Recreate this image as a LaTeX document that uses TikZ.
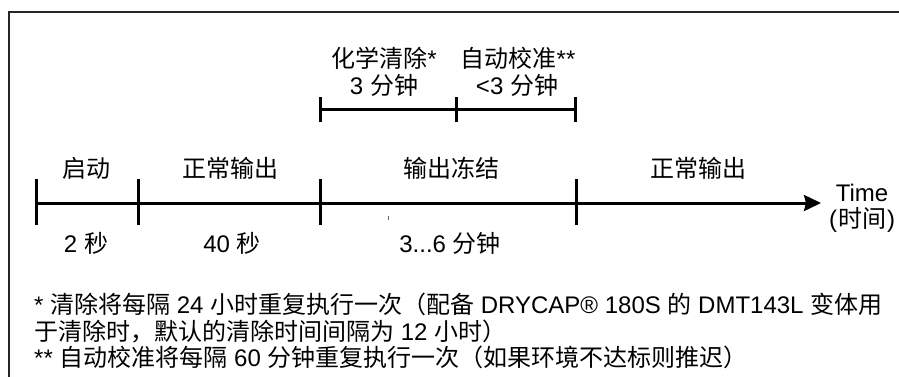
\documentclass[tikz,border=0pt]{standalone}
\usepackage{fontspec}
\setmainfont{Liberation Sans}
\newfontfamily\cjk{Noto Sans CJK SC}
\usetikzlibrary{arrows.meta}
\begin{document}
\begin{tikzpicture}[x=1pt,y=-1pt,
  lbl/.style={inner sep=0pt,anchor=base,font=\fontsize{24}{27}\selectfont},
  note/.style={inner sep=0pt,anchor=base west,font=\fontsize{24}{27}\selectfont},
  axis/.style={line width=3pt},
  tick/.style={line width=3pt},
  frame/.style={line width=1.8pt,black!85}]
\useasboundingbox (0,0) rectangle (899,376);
% frame
\coordinate (fbl) at (9,377);
\coordinate (ftl) at (9,12);
\coordinate (ftr) at (900,12);
\draw[frame] (fbl) -- (ftl) -- (ftr);
% main timeline
\coordinate (t0) at (36,203);
\coordinate (t1) at (138,203);
\coordinate (t2) at (320,203);
\coordinate (t3) at (576,203);
\coordinate (tend) at (821,203);
\draw[axis,-{Stealth[length=17pt,width=16pt,inset=2pt]}] (t0) -- (tend);
\foreach \t in {t0,t1,t2,t3}{
  \draw[tick] ([yshift=-22pt]\t) -- ([yshift=24pt]\t);
}
% upper bracket
\coordinate (u0) at (320,109);
\coordinate (u1) at (456,109);
\coordinate (u2) at (575,109);
\draw[axis] (u0) -- (u2);
\foreach \t in {u0,u1,u2}{
  \draw[tick] ([yshift=-13pt]\t) -- ([yshift=12pt]\t);
}
% small mark
\coordinate (m0) at (388,216);
\coordinate (m1) at (388,220);
\draw[line width=0.8pt,black!60] (m0) -- (m1);
% labels
\node[lbl] (l1) at (86,177) {{\cjk 启动}};
\node[lbl] (l2) at (230,177) {{\cjk 正常输出}};
\node[lbl] (l3) at (451,177) {{\cjk 输出冻结}};
\node[lbl] (l4) at (698,177) {{\cjk 正常输出}};
\node[lbl] (d1) at (86,252) {2 {\cjk 秒}};
\node[lbl] (d2) at (232,252) {40 {\cjk 秒}};
\node[lbl] (d3) at (450,252) {3...6 {\cjk 分钟}};
\node[lbl] (p1) at (384,67) {{\cjk 化学清除}*};
\node[lbl] (p2) at (384,94) {3 {\cjk 分钟}};
\node[lbl] (c1) at (518,67) {{\cjk 自动校准}**};
\node[lbl] (c2) at (517,94) {<3 {\cjk 分钟}};
\node[lbl] (tm) at (862,201) {Time};
\node[lbl] (tz) at (862,227) {(\kern1pt{\cjk 时间}\kern1pt)};
% footnotes
\node[note] (n1) at (34,313) {* {\cjk 清除将每隔} 24 {\cjk 小时重复执行一次（配备} DRYCAP® 180S {\cjk 的} DMT143L {\cjk 变体用}};
\node[note] (n2) at (34,340) {{\cjk 于清除时，默认的清除时间间隔为} 12 {\cjk 小时）}};
\node[note] (n3) at (34,366) {** {\cjk 自动校准将每隔} 60 {\cjk 分钟重复执行一次（如果环境不达标则推迟）}};
\end{tikzpicture}
\end{document}
